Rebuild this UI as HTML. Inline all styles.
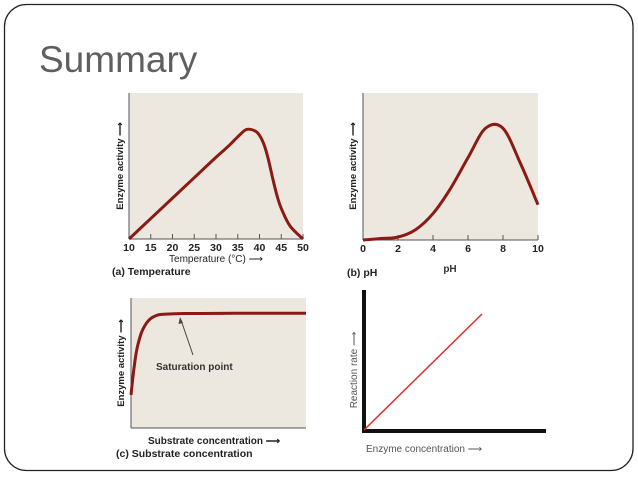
<!DOCTYPE html>
<html><head><meta charset="utf-8"><style>
body{margin:0;background:#fff;width:638px;height:479px;overflow:hidden}
svg{display:block;font-family:"Liberation Sans",sans-serif}
</style></head><body>
<svg width="638" height="479">
<rect x="4.5" y="4.5" width="628.5" height="466" rx="22" fill="#fff" stroke="#222" stroke-width="1.3"/>
<text x="39" y="72" font-size="37" fill="#5f5f5f">Summary</text>

<g>
<rect x="129" y="93" width="174" height="146" fill="#ede8df"/>
<line x1="129" y1="93" x2="129" y2="239" stroke="#555" stroke-width="1"/>
<line x1="129" y1="239" x2="303" y2="239" stroke="#555" stroke-width="1"/>
<g id="tTicks"></g>
<path id="tCurve" fill="none" stroke="#8b1a14" stroke-width="3"/>
<text transform="translate(123,166) rotate(-90)" text-anchor="middle" font-size="9.5" font-weight="bold" fill="#222">Enzyme activity ⟶</text>
<text x="216" y="262" text-anchor="middle" font-size="10" fill="#222">Temperature (°C) ⟶</text>
<text x="112" y="275" font-size="10.5" font-weight="bold" fill="#222">(a)  Temperature</text>
</g>

<g>
<rect x="363" y="93" width="175" height="147" fill="#ede8df"/>
<line x1="363" y1="93" x2="363" y2="240" stroke="#555"/>
<line x1="363" y1="240" x2="538" y2="240" stroke="#555"/>
<g id="pTicks"></g>
<path id="pCurve" fill="none" stroke="#8b1a14" stroke-width="3"/>
<text transform="translate(356,166) rotate(-90)" text-anchor="middle" font-size="9.5" font-weight="bold" fill="#222">Enzyme activity ⟶</text>
<text x="450" y="272" text-anchor="middle" font-size="10" font-weight="bold" fill="#333">pH</text>
<text x="347" y="276" font-size="10.5" font-weight="bold" fill="#222">(b)  pH</text>
</g>

<g>
<rect x="131" y="298" width="175" height="130" fill="#ede8df"/>
<line x1="131" y1="298" x2="131" y2="428" stroke="#555"/>
<line x1="131" y1="428" x2="306" y2="428" stroke="#555"/>
<path id="sCurve" fill="none" stroke="#8b1a14" stroke-width="3"/>
<line x1="193" y1="355" x2="181" y2="320" stroke="#444" stroke-width="1"/>
<path d="M180,317 L178.5,324 L183,323 Z" fill="#444"/>
<text x="156" y="370" font-size="10" font-weight="bold" fill="#333">Saturation point</text>
<text transform="translate(124,363) rotate(-90)" text-anchor="middle" font-size="9.5" font-weight="bold" fill="#222">Enzyme activity ⟶</text>
<text x="148" y="444" font-size="10" font-weight="bold" fill="#222">Substrate concentration ⟶</text>
<text x="116" y="457" font-size="10.5" font-weight="bold" fill="#222">(c)  Substrate concentration</text>
</g>

<g>
<line x1="364" y1="290" x2="364" y2="432" stroke="#111" stroke-width="4"/>
<line x1="362" y1="431" x2="546" y2="431" stroke="#111" stroke-width="4"/>
<path id="eLine" fill="none" stroke="#d9322a" stroke-width="1.5"/>
<text transform="translate(357,370) rotate(-90)" text-anchor="middle" font-size="10" fill="#555">Reaction rate ⟶</text>
<text x="366" y="452" font-size="10" fill="#555">Enzyme concentration ⟶</text>
</g>
</svg>
<script>
const tempX=[10,15,20,25,30,33,35,37,39,40,41,42,43,44,45,47,50];
const tempY=[0,14,28,42,56,64,70,75,74,71,65,55,42,30,21,9,0];
const tempTicks=[10,15,20,25,30,35,40,45,50];
const phX=[0,1,2,3,4,5,6,7,8,9,10];
const phY=[0,1,2,7,18,35,56,76,76,52,24];
const phTicks=[0,2,4,6,8,10];
const subX=[0,1,2,3,4,6,8,10,12,14,16,20,30,40,60,100];
const subY=[28,42,54,64,71,81,87,91,93.5,95,96,96.5,97,97,97.2,97.2];
const ecX=[0,100];
const ecY=[0,100];
const NS="http://www.w3.org/2000/svg";
function sc(d0,d1,r0,r1){return v=>r0+(v-d0)/(d1-d0)*(r1-r0);}
function smooth(xs,ys,fx,fy){const p=xs.map((x,i)=>[fx(x),fy(ys[i])]);let d="M"+p[0][0]+","+p[0][1];
for(let i=0;i<p.length-1;i++){const a=p[i-1]||p[i],b=p[i],c=p[i+1],e=p[i+2]||c;
d+=` C${b[0]+(c[0]-a[0])/6},${b[1]+(c[1]-a[1])/6} ${c[0]-(e[0]-b[0])/6},${c[1]-(e[1]-b[1])/6} ${c[0]},${c[1]}`;}return d;}
function ticks(g,vals,fx,y,name){vals.forEach(v=>{const l=document.createElementNS(NS,"line");
l.setAttribute("x1",fx(v));l.setAttribute("x2",fx(v));l.setAttribute("y1",y-5);l.setAttribute("y2",y);l.setAttribute("stroke","#555");


g.appendChild(l);const t=document.createElementNS(NS,"text");t.setAttribute("x",fx(v));t.setAttribute("y",y+12);
t.setAttribute("text-anchor","middle");t.setAttribute("font-size","10.5");t.setAttribute("font-weight","bold");t.setAttribute("fill","#222");t.textContent=v;


g.appendChild(t);});}
const tx=sc(10,50,129,303),ty=sc(0,100,239,93);
document.getElementById("tCurve").setAttribute("d",smooth(tempX,tempY,tx,ty));
ticks(document.getElementById("tTicks"),tempTicks,tx,239,"temp");
const px=sc(0,10,363,538),py=sc(0,100,240,93);
document.getElementById("pCurve").setAttribute("d",smooth(phX,phY,px,py));
ticks(document.getElementById("pTicks"),phTicks,px,240,"ph");
const sx=sc(0,100,131,306),sy=sc(0,100,428,310);
document.getElementById("sCurve").setAttribute("d",smooth(subX,subY,sx,sy));
const ex=sc(0,100,364,482),ey=sc(0,100,430,314);
document.getElementById("eLine").setAttribute("d",`M${ex(ecX[0])},${ey(ecY[0])} L${ex(ecX[1])},${ey(ecY[1])}`);
</script>
</body></html>
